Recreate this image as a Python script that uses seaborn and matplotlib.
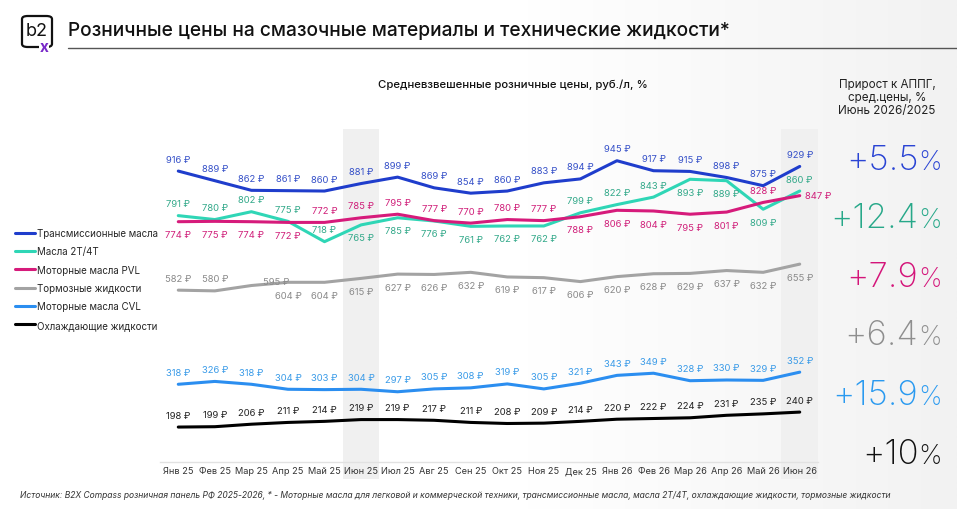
import numpy as np
import pandas as pd
import seaborn as sns
import matplotlib.pyplot as plt
from matplotlib.patches import FancyBboxPatch

# months on the x axis
months = ['Янв 25', 'Фев 25', 'Мар 25', 'Апр 25', 'Май 25', 'Июн 25', 'Июл 25', 'Авг 25', 'Сен 25',
          'Окт 25', 'Ноя 25', 'Дек 25', 'Янв 26', 'Фев 26', 'Мар 26', 'Апр 26', 'Май 26', 'Июн 26']

series_names = ['Трансмиссионные масла', 'Масла 2T/4T', 'Моторные масла PVL',
                'Тормозные жидкости', 'Моторные масла CVL', 'Охлаждающие жидкости']

transmission = [916, 889, 862, 861, 860, 881, 899, 869, 854, 860, 883, 894, 945, 917, 915, 898, 875, 929]
oil_2t4t = [791, 780, 802, 775, 718, 765, 785, 776, 761, 762, 762, 799, 822, 843, 893, 889, 809, 860]
motor_pvl = [774, 775, 774, 772, 772, 785, 795, 777, 770, 780, 777, 788, 806, 804, 795, 801, 828, 847]
brake = [582, 580, 595, 604, 604, 615, 627, 626, 632, 619, 617, 606, 620, 628, 629, 637, 632, 655]
motor_cvl = [318, 326, 318, 304, 303, 304, 297, 305, 308, 319, 305, 321, 343, 349, 328, 330, 329, 352]
coolant = [198, 199, 206, 211, 214, 219, 219, 217, 211, 208, 209, 214, 220, 222, 224, 231, 235, 240]

growth_numbers = ['+5.5', '+12.4', '+7.9', '+6.4', '+15.9', '+10']

values = [transmission, oil_2t4t, motor_pvl, brake, motor_cvl, coolant]

# styles
line_colors = ['#1f3dcc', '#2fd6b6', '#d61b7b', '#a3a3a3', '#2b8ef0', '#000000']
label_colors = ['#3550c8', '#33a98a', '#d0207a', '#8a8a8a', '#3a9be8', '#222222']
big_colors = ['#2a44d4', '#27a889', '#d4157a', '#8e8e8e', '#2a9af0', '#111111']
# label placement: a = above, b = below, r = right, s = shifted
label_side = [
    'aaaaaaaaaaaaaaaaaa',
    'aaaaabbbbbbaaabbba',
    'bbbbaaaaaaabbbbbar',
    'aasbbbbbbbbbbbbbbb',
    'aaaaaaaaaaaaaaaaaa',
    'aaaaaaaaaaaaaaaaaa',
]

sns.set_theme(style='white')
plt.rcParams['font.family'] = ['Inter', 'DejaVu Sans']

W, H = 957, 510
fig = plt.figure(figsize=(W / 100, H / 100), dpi=100)
fig.patch.set_facecolor('white')

# faint grey gradient on the right side of the slide
bg = fig.add_axes([0, 0, 1, 1], zorder=-10)
grad = np.clip((np.linspace(0, 1, 400) - 0.55) / 0.45, 0, 1)[None, :]
bg.imshow(grad, cmap=plt.matplotlib.colors.LinearSegmentedColormap.from_list('g', ['#ffffff', '#f2f2f2']),
          aspect='auto', extent=[0, 1, 0, 1], vmin=0, vmax=1)
bg.axis('off')

ax = fig.add_axes([160 / W, 1 - 463 / H, 658 / W, 333 / H])
ax.set_facecolor('none')

rows = []
for name, vals in zip(series_names, values):
    for i, v in enumerate(vals):
        rows.append({'idx': i, 'value': v, 'series': name})
df = pd.DataFrame(rows)

# highlighted months
for i in [5, 17]:
    ax.axvspan(i - 0.5, i + 0.5, ymin=-0.05, ymax=1, color='#f0f0f0', zorder=0, clip_on=False, lw=0)

sns.lineplot(data=df, x='idx', y='value', hue='series', hue_order=series_names,
             palette=dict(zip(series_names, line_colors)), linewidth=2.2, ax=ax, zorder=3)

ax.set_xlim(-0.5, 17.5)
ax.set_ylim(100, 1034)
ax.set_xticks(range(len(months)))
ax.set_xticklabels(months, fontsize=6.6, color='#333333')
ax.set_yticks([])
ax.set_xlabel('')
ax.set_ylabel('')
ax.tick_params(axis='x', length=0, pad=3)
for s in ['top', 'right', 'left']:
    ax.spines[s].set_visible(False)
ax.spines['bottom'].set_color('#e2e2e2')
ax.spines['bottom'].set_linewidth(1)

# data labels
for vals, sides, col in zip(values, label_side, label_colors):
    for i, (v, sd) in enumerate(zip(vals, sides)):
        ha = 'center'
        if sd == 'a':
            off = (0, 12)
        elif sd == 'b':
            off = (0, -13)
        elif sd == 'r':
            off = (5, 0)
            ha = 'left'
        else:
            off = (25, 4)
        ax.annotate(f'{v} ₽', (i, v), xytext=off, textcoords='offset pixels',
                    ha=ha, va='center', fontsize=6.8, color=col, zorder=5)

# legend on the left
handles, labels = ax.get_legend_handles_labels()
ax.get_legend().remove()
fig.legend(handles, labels, loc='upper left', bbox_to_anchor=(15 / W, 1 - 229 / H),
           frameon=False, fontsize=7.0, handlelength=2.1, handletextpad=0.2,
           labelspacing=0.86, borderpad=0, borderaxespad=0)

# title, logo, subtitle
fig.text(68 / W, 1 - 31 / H, 'Розничные цены на смазочные материалы и технические жидкости*',
         fontsize=13.8, fontweight='medium', color='#111111', va='center', ha='left')
fig.add_artist(plt.Line2D([68 / W, 1], [1 - 49 / H, 1 - 49 / H], color='#555555', lw=1))
fig.add_artist(FancyBboxPatch((22 / W, 1 - 48 / H), 30 / W, 31 / H,
                              boxstyle='round,pad=0,rounding_size=0.006', fill=False,
                              ec='#111111', lw=1.6, transform=fig.transFigure))
fig.text(37 / W, 1 - 31 / H, 'b2', fontsize=13, color='#111111', ha='center', va='center')
fig.text(44 / W, 1 - 47 / H, 'x', fontsize=11, color='#7a2bc9', fontweight='bold', ha='center',
         va='center', bbox=dict(fc='white', ec='none', pad=0.5))

fig.text(513 / W, 1 - 85 / H, 'Средневзвешенные розничные цены, руб./л, %', fontsize=8.2,
         fontweight='medium', color='#111111', ha='center', va='center')

fig.text(887 / W, 1 - 98 / H, 'Прирост к АППГ,\nсред.цены, %\nИюнь 2026/2025', fontsize=8.4,
         color='#222222', ha='center', va='center', linespacing=1.15)

# growth numbers on the right
baselines = [170, 228, 287, 345, 405, 464]
pct_texts = []
for yb, col in zip(baselines, big_colors):
    pct_texts.append(fig.text(942 / W, 1 - yb / H, '%', fontsize=19, color=col, ha='right', va='baseline',
                              fontweight='light'))
fig.canvas.draw()
for t, num, yb, col in zip(pct_texts, growth_numbers, baselines, big_colors):
    x0 = t.get_window_extent().x0
    fig.text(x0 / W, 1 - yb / H, num, fontsize=25, color=col, ha='right', va='baseline', fontweight='light')

fig.text(20 / W, 1 - 496 / H,
         'Источник: B2X Compass розничная панель РФ 2025-2026, * - Моторные масла для легковой и коммерческой техники, '
         'трансмиссионные масла, масла 2T/4T, охлаждающие жидкости, тормозные жидкости',
         fontsize=6.1, style='italic', color='#333333', ha='left', va='center')

fig.savefig('out.png', dpi=100)
